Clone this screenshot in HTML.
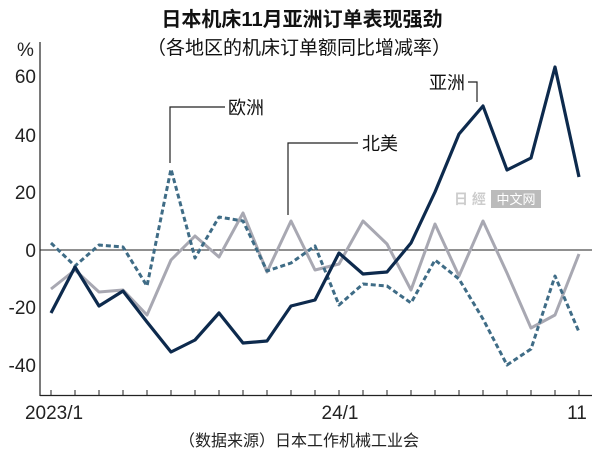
<!DOCTYPE html><html><head><meta charset="utf-8"><style>body{margin:0;background:#fff}svg text{font-family:"Liberation Sans","Noto Sans CJK SC",sans-serif}</style></head><body>
<svg width="600" height="459" viewBox="0 0 600 459" xmlns="http://www.w3.org/2000/svg">
<text x="302" y="26" text-anchor="middle" font-size="20" font-weight="bold" fill="#111">日本机床11月亚洲订单表现强劲</text>
<text x="299" y="54" text-anchor="middle" font-size="19" fill="#111">（各地区的机床订单额同比增减率）</text>
<text x="17" y="56" font-size="19" fill="#222">%</text>
<g font-size="19" fill="#222" text-anchor="end">
<text x="36" y="83">60</text><text x="36" y="142">40</text><text x="36" y="199">20</text><text x="36" y="257">0</text><text x="36" y="314">-20</text><text x="36" y="372">-40</text></g>
<line x1="40" y1="42" x2="40" y2="396" stroke="#222" stroke-width="1.2"/>
<line x1="40" y1="395.5" x2="592" y2="395.5" stroke="#222" stroke-width="1.2"/>
<line x1="40" y1="250" x2="592" y2="250" stroke="#222" stroke-width="1"/>
<g stroke="#222" stroke-width="1">
<path d="M51 395v-5M75 395v-5M99 395v-5M123 395v-5M147 395v-5M171 395v-5M195 395v-5M219 395v-5M243 395v-5M267 395v-5M291 395v-5M315 395v-5M339 395v-5M363 395v-5M387 395v-5M411 395v-5M435 395v-5M459 395v-5M483 395v-5M507 395v-5M531 395v-5M555 395v-5M579 395v-5"/></g>
<g font-size="19" fill="#222" text-anchor="middle"><text x="54" y="419">2023/1</text><text x="340" y="419">24/1</text><text x="577" y="419">11</text></g>
<text x="299" y="446" text-anchor="middle" font-size="16" fill="#222">（数据来源）日本工作机械工业会</text>
<rect x="491" y="190" width="50" height="18" fill="#bbb"/><text x="516" y="204" text-anchor="middle" font-size="13" fill="#fff">中文网</text>
<text x="470" y="204" text-anchor="middle" font-size="14" fill="#ccc" font-weight="bold">日 經</text>
<polyline fill="none" stroke="#a8a8b2" stroke-width="3" stroke-linejoin="round" points="51,289 75,270 99,292 123,290 147,315 171,260 195,236 219,257 243,213 267,272 291,221 315,270 339,264 363,221 387,244 411,290 435,224 459,276 483,221 507,273 531,328 555,315 579,254"/>
<polyline fill="none" stroke="#3f6c86" stroke-width="3" stroke-dasharray="5,3" stroke-linejoin="round" points="51,243 75,266 99,245 123,247 147,286 171,169 195,258 219,217 243,221 267,271 291,263 315,246 339,305 363,284 387,286 411,303 435,260 459,279 483,319 507,365 531,349 555,276 579,332"/>
<polyline fill="none" stroke="#0d2a4d" stroke-width="3.2" stroke-linejoin="round" points="51,313 75,267 99,306 123,291 147,322 171,352 195,340 219,313 243,343 267,341 291,306 315,300 339,253 363,274 387,272 411,243 435,192 459,134 483,106 507,170 531,158 555,67 579,177"/>
<g stroke="#222" stroke-width="1.2" fill="none">
<path d="M170 163V107H225"/><path d="M288 215V143H358"/><path d="M468 82H477V102"/></g>
<g font-size="18" fill="#111"><text x="228" y="114">欧洲</text><text x="362" y="150">北美</text><text x="429" y="89">亚洲</text></g>
</svg></body></html>
